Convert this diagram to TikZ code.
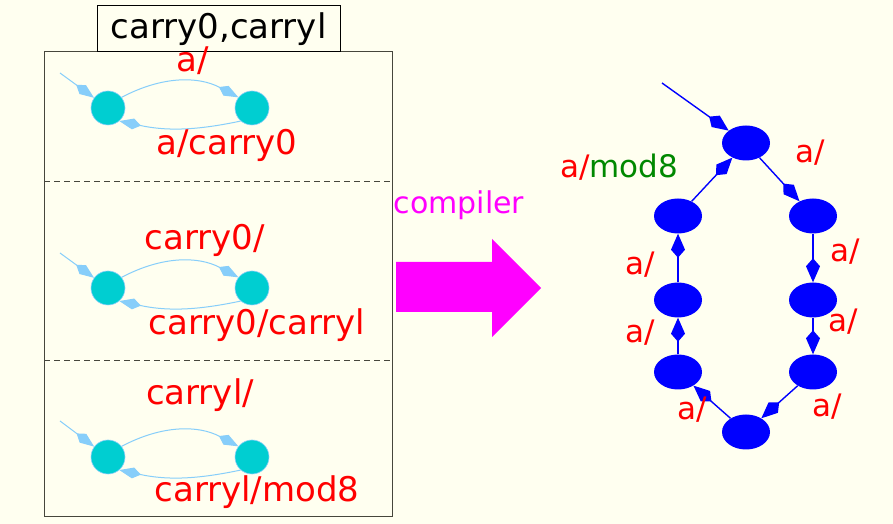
\documentclass[tikz,border=0pt]{standalone}
\usepackage{fontspec}
\setmainfont{DejaVu Sans}
\usetikzlibrary{arrows.meta,shapes.geometric}
\definecolor{paper}{RGB}{255,255,240}
\definecolor{framegray}{RGB}{70,70,60}
\definecolor{statefill}{RGB}{0,206,209}
\definecolor{edgeblue}{RGB}{135,206,250}
\definecolor{labred}{RGB}{255,0,0}
\definecolor{labgreen}{RGB}{0,136,0}
\definecolor{arrowmag}{RGB}{255,0,255}
\definecolor{nodeblue}{RGB}{0,0,255}
\begin{document}
\begin{tikzpicture}[x=1pt,y=1pt,
  smallstate/.style={circle, fill=statefill, draw=edgeblue, line width=0.6pt,
    minimum size=34pt, inner sep=0pt},
  smalledge/.style={draw=edgeblue, line width=1pt,
    -{Kite[length=22pt,width=11pt,inset=8pt,fill=edgeblue]}},
  bigstate/.style={ellipse, fill=nodeblue, minimum width=48pt,
    minimum height=35pt, inner sep=0pt},
  bigedge/.style={draw=nodeblue, line width=1.4pt,
    -{Kite[length=24pt,width=14pt,inset=8pt,fill=nodeblue]}},
  lab/.style={text=labred, inner sep=0pt, font=\fontsize{34}{40}\selectfont},
  rlab/.style={text=labred, inner sep=0pt, font=\fontsize{31}{36}\selectfont}]

% page
\fill[paper] (0,0) rectangle (893,524);
\useasboundingbox (0,0) rectangle (893,524);

% left panel: frame, separators and title
\draw[framegray, line width=1pt] (44,7) rectangle (392,472);
\draw[framegray, line width=0.8pt, dash pattern=on 6pt off 4pt] (44,343) -- (392,343);
\draw[framegray, line width=0.8pt, dash pattern=on 6pt off 4pt] (44,164) -- (392,164);
\node[draw=black, line width=1pt, fill=paper, minimum width=243pt, minimum height=46pt,
  inner sep=0pt, font=\fontsize{34}{40}\selectfont] (title) at (218.5,495) {carry0,carryl};

% first automaton
\node[smallstate] (L1) at (108,416) {};
\node[smallstate] (R1) at (252,416) {};
\coordinate (s1) at (60,451);
\draw[smalledge] (s1) -- (L1);
\draw[smalledge] (L1.38) to[bend left=28] (R1.142);
\draw[smalledge] (R1.-131) to[bend left=12] (L1.-49);
\node[lab] (t1) at (193,463) {a/};
\node[lab] (b1) at (227,379) {a/carry0};

% second automaton
\node[smallstate] (L2) at (108,236) {};
\node[smallstate] (R2) at (252,236) {};
\coordinate (s2) at (60,271);
\draw[smalledge] (s2) -- (L2);
\draw[smalledge] (L2.38) to[bend left=28] (R2.142);
\draw[smalledge] (R2.-131) to[bend left=12] (L2.-49);
\node[lab] (t2) at (205,284) {carry0/};
\node[lab] (b2) at (257,199) {carry0/carryl};

% third automaton
\node[smallstate] (L3) at (108,67) {};
\node[smallstate] (R3) at (252,67) {};
\coordinate (s3) at (60,103);
\draw[smalledge] (s3) -- (L3);
\draw[smalledge] (L3.38) to[bend left=28] (R3.142);
\draw[smalledge] (R3.-131) to[bend left=12] (L3.-49);
\node[lab] (t3) at (200,129) {carryl/};
\node[lab] (b3) at (257,32) {carryl/mod8};

% compiler arrow
\node[text=arrowmag, inner sep=0pt, font=\fontsize{30}{36}\selectfont] (comp) at (459,319) {compiler};
\fill[arrowmag] (396,262) -- (492,262) -- (492,285) -- (541,236) -- (492,187)
  -- (492,212) -- (396,212) -- cycle;

% resulting ring of eight states
\node[bigstate] (T)  at (746,381) {};
\node[bigstate] (A2) at (678,308) {};
\node[bigstate] (B2) at (813,308) {};
\node[bigstate] (A3) at (678,224) {};
\node[bigstate] (B3) at (813,224) {};
\node[bigstate] (A4) at (678,152) {};
\node[bigstate] (B4) at (813,152) {};
\node[bigstate] (Bot) at (746,92) {};
\coordinate (s4) at (662,441);
\draw[bigedge] (s4) -- (T);
\draw[bigedge] (T) -- (B2);
\draw[bigedge] (B2) -- (B3);
\draw[bigedge] (B3) -- (B4);
\draw[bigedge] (B4) -- (Bot);
\draw[bigedge] (Bot) -- (A4);
\draw[bigedge] (A4) -- (A3);
\draw[bigedge] (A3) -- (A2);
\draw[bigedge] (A2) -- (T);

\node[rlab] (m8) at (619,357) {a/\textcolor{labgreen}{mod8}};
\node[rlab] (e1) at (810,371) {a/};
\node[rlab] (e2) at (845,272) {a/};
\node[rlab] (e3) at (843,202) {a/};
\node[rlab] (e4) at (827,117) {a/};
\node[rlab] (e5) at (692,114) {a/};
\node[rlab] (e6) at (640,191) {a/};
\node[rlab] (e7) at (640,259) {a/};
\end{tikzpicture}
\end{document}
